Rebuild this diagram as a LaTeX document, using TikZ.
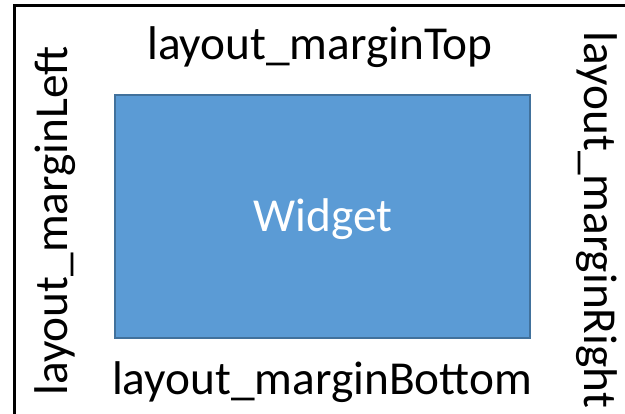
\documentclass[tikz,border=0pt]{standalone}
\usepackage{fontspec}
\setmainfont{Carlito}
\definecolor{widgetfill}{HTML}{5B9BD5}
\definecolor{widgetedge}{HTML}{41719C}

\begin{document}
\begin{tikzpicture}[
    x=1pt, y=-1pt,
    every node/.style={font=\fontsize{47.3}{50}\selectfont, inner sep=0pt},
    widget/.style={
        rectangle, minimum width=415pt, minimum height=243pt,
        line width=2pt, draw=widgetedge, fill=widgetfill, text=white,
    },
    margin/.style={anchor=base, text=black},
]
\useasboundingbox (0,0) rectangle (625,414);
\clip (0,0) rectangle (625,414);

% ================================================ outer frame
\draw[black, line width=3pt] (14.5,5.5) rectangle (660,440);

% ================================================ the widget
\node[widget] (widget) at (322.5,216.5) {};
\node[text=white, anchor=base] (wlabel) at (323,232) {Widget};

% ================================================ the four margins
\node[margin] (top)    at (320,60)  {layout\_marginTop};
\node[margin] (bottom) at (322,395) {layout\_marginBottom};
\node[margin, rotate=90]  (left)  at (67,221)  {layout\_marginLeft};
\node[margin, rotate=-90] (right) at (584,220) {layout\_marginRight};

\end{tikzpicture}
\end{document}
